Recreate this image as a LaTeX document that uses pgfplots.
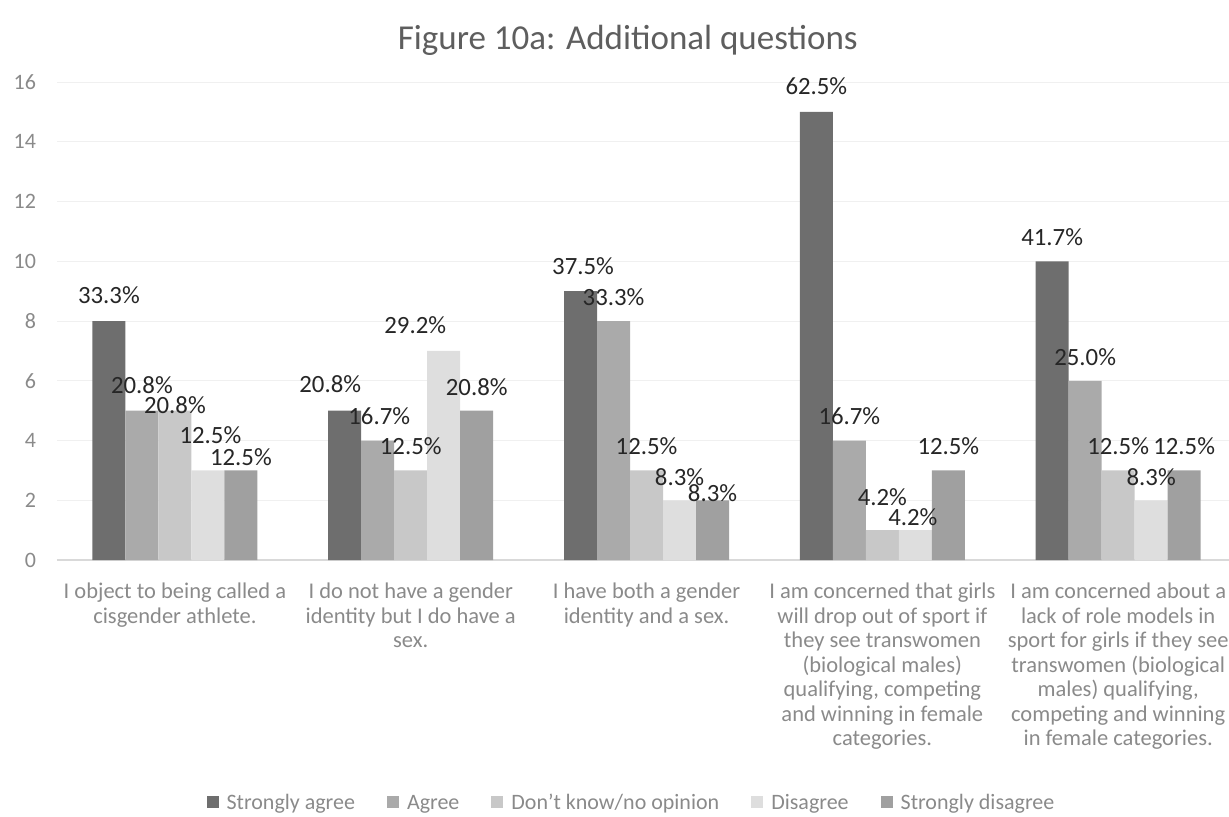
\documentclass[border=0pt]{standalone}
\usepackage{fontspec}
\setmainfont{Carlito}
\usepackage{pgfplots}
\pgfplotsset{compat=1.18}
\usepackage{pgfplotstable}

\definecolor{cSA}{HTML}{6E6E6E}
\definecolor{cA}{HTML}{AAAAAA}
\definecolor{cDK}{HTML}{C8C8C8}
\definecolor{cDis}{HTML}{DEDEDE}
\definecolor{cSD}{HTML}{A0A0A0}
\definecolor{txtgray}{HTML}{8A8A8A}
\definecolor{titlegray}{HTML}{5E5E5E}
\definecolor{lblblack}{HTML}{262626}

% counts (y), share of 24 answers in percent (pct), label nudges in pt (dx, dy)
\pgfplotstableread{
x y pct dx dy
0 8 33.3 0 1
1 5 20.8 -7.25 1.3
2 9 37.5 1.25 0.5
3 15 62.5 0 1
4 10 41.7 0 0
}\tblSA
\pgfplotstableread{
x y pct dx dy
0 5 20.8 0 1
1 4 16.7 0.75 0
2 8 33.3 0 0
3 4 16.7 0 0
4 6 25.0 0 0
}\tblA
\pgfplotstableread{
x y pct dx dy
0 5 20.8 0 -9.2
1 3 12.5 0 0
2 3 12.5 0 0
3 1 4.2 0 4.5
4 3 12.5 0 0
}\tblDK
\pgfplotstableread{
x y pct dx dy
0 3 12.5 1.25 5.7
1 7 29.2 -14.25 1
2 2 8.3 0 -0.5
3 1 4.2 -1.25 -5.5
4 2 8.3 0 -0.5
}\tblDis
\pgfplotstableread{
x y pct dx dy
0 3 12.5 0 -5.3
1 5 20.8 0 0
2 2 8.3 0 -8.5
3 3 12.5 0 0
4 3 12.5 0 0
}\tblSD

\begin{document}
\begin{tikzpicture}
\useasboundingbox (-28.5pt,-128pt) rectangle (586pt,280pt);
\begin{axis}[
  anchor=south west, at={(0pt,0pt)},
  scale only axis, width=586pt, height=239pt,
  ybar=0pt, bar width=16.5pt,
  xmin=-0.5, xmax=4.47, ymin=0, ymax=16,
  enlargelimits=false, clip=false,
  ytick={0,2,...,16},
  xtick={0,...,4},
  xticklabels={
    {I object to being called a\\cisgender athlete.},
    {I do not have a gender\\identity but I do have a\\sex.},
    {I have both a gender\\identity and a sex.},
    {I am concerned that girls\\will drop out of sport if\\they see transwomen\\(biological males)\\qualifying, competing\\and winning in female\\categories.},
    {I am concerned about a\\lack of role models in\\sport for girls if they see\\transwomen (biological\\males) qualifying,\\competing and winning\\in female categories.}
  },
  /pgf/number format/assume math mode=true,
  major tick length=0pt,
  axis x line*=bottom, axis y line*=left,
  x axis line style={draw=black!15, line width=0.6pt},
  y axis line style={draw=none},
  ymajorgrids, grid style={draw=black!6, line width=0.5pt},
  xticklabel style={align=center, anchor=north, yshift=-8pt,
    font=\fontsize{11.25}{12.25}\selectfont, text=txtgray},
  yticklabel style={font=\fontsize{11}{13}\selectfont, text=txtgray, xshift=-7pt},
  title={Figure 10a: Additional questions},
  title style={at={(0.487,1.062)}, anchor=center,
    font=\fontsize{17.5}{20}\selectfont, text=titlegray},
  legend columns=5,
  legend style={draw=none, fill=none, at={(0.491,-0.506)}, anchor=center,
    font=\fontsize{11}{13}\selectfont, text=txtgray,
    /tikz/every odd column/.append style={column sep=2pt},
    /tikz/every even column/.append style={column sep=14pt}},
  legend image code/.code={\fill[#1,draw=none] (0pt,-3pt) rectangle (6pt,3pt);},
  point meta=explicit,
  visualization depends on={\thisrow{dx}\as\dx},
  visualization depends on={\thisrow{dy}\as\dy},
  nodes near coords={\pgfmathprintnumber[fixed,fixed zerofill,precision=1]{\pgfplotspointmeta}\%},
  every node near coord/.append style={anchor=center, inner sep=0pt,
    font=\fontsize{12.4}{14}\selectfont, text=lblblack,
    xshift={\dx*1pt}, yshift={(12+\dy)*1pt}},
]
\addplot[fill=cSA, draw=none] table[x=x, y=y, meta=pct] {\tblSA};
\addplot[fill=cA, draw=none] table[x=x, y=y, meta=pct] {\tblA};
\addplot[fill=cDK, draw=none] table[x=x, y=y, meta=pct] {\tblDK};
\addplot[fill=cDis, draw=none] table[x=x, y=y, meta=pct] {\tblDis};
\addplot[fill=cSD, draw=none] table[x=x, y=y, meta=pct] {\tblSD};
\legend{Strongly agree\strut, Agree\strut, Don't know/no opinion\strut, Disagree\strut, Strongly disagree\strut}
\end{axis}
\end{tikzpicture}
\end{document}
